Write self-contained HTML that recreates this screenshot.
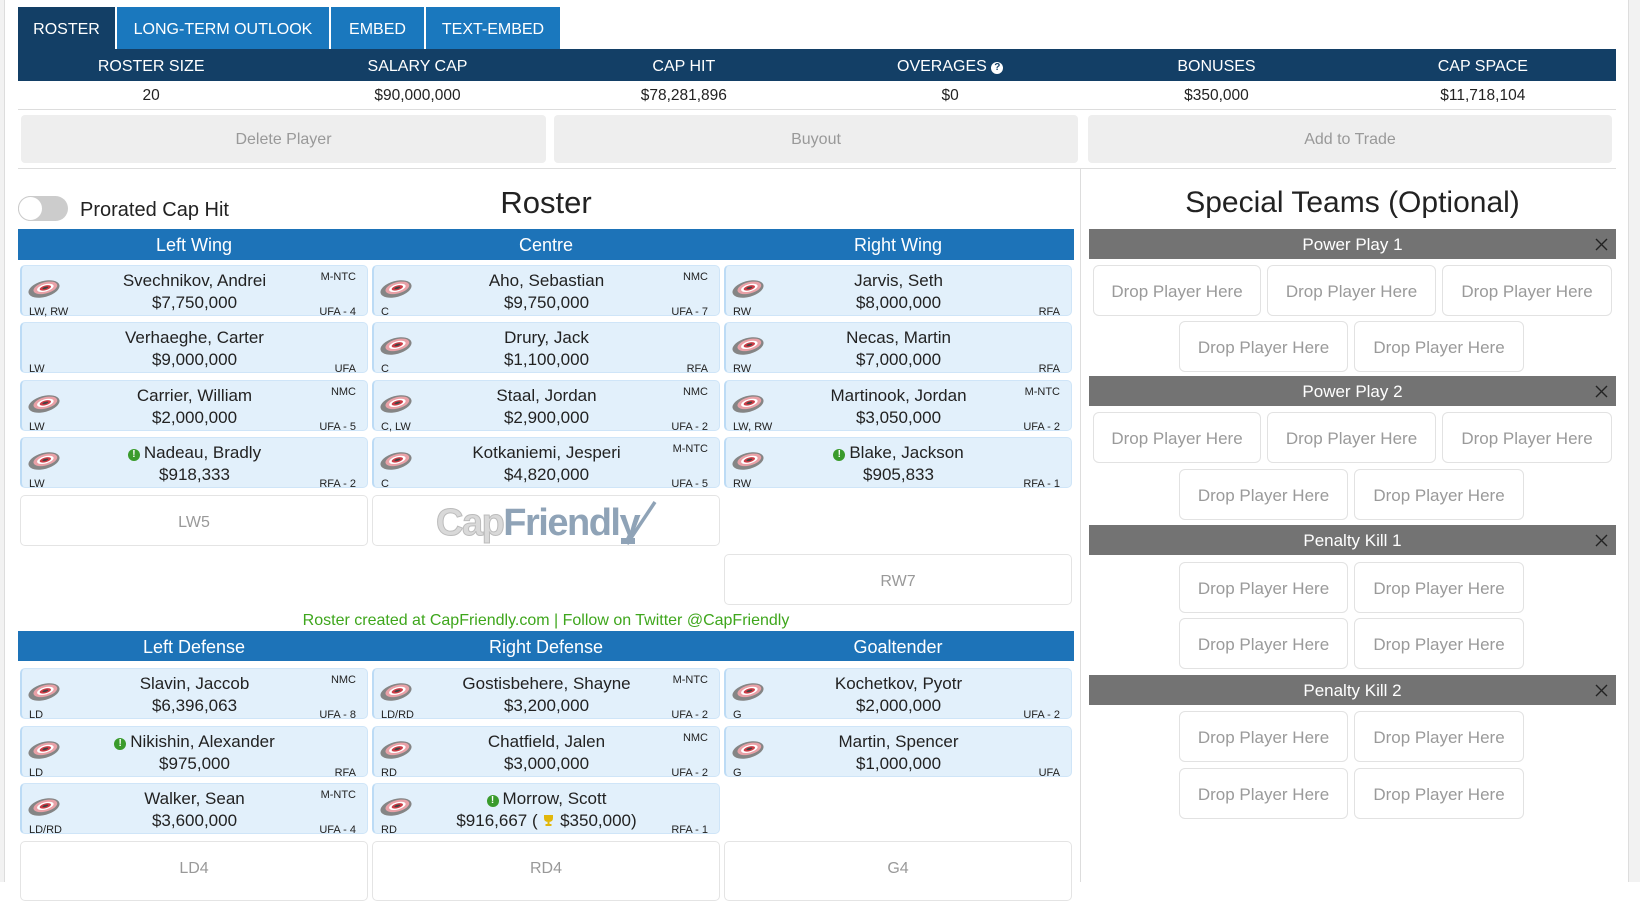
<!DOCTYPE html>
<html><head><meta charset="utf-8">
<style>
*{box-sizing:border-box}
body{margin:0;width:1640px;height:882px;overflow:hidden;position:relative;background:#fff;font-family:"Liberation Sans",Arial,sans-serif;color:#222}
.a{position:absolute}
.tab{position:absolute;top:7px;height:42px;color:#fff;font-size:16px;line-height:42px;padding-top:2px;text-align:center;background:#1a78be}
.hdr{position:absolute;left:18px;top:49px;width:1598px;height:32px;background:#133f66;display:flex}
.hdr div{flex:1;text-align:center;color:#fff;font-size:16px;line-height:32px;padding-top:2px}
.vals{position:absolute;left:18px;top:81px;width:1598px;height:29px;display:flex;border-bottom:1px solid #ddd}
.vals div{flex:1;text-align:center;font-size:15.5px;line-height:28px;padding-top:1px;color:#222}
.btn{position:absolute;top:115px;height:48px;background:#eee;border-radius:4px;color:#999;font-size:16px;line-height:48px;padding-top:1px;text-align:center}
.ph{position:absolute;height:31px;background:#1d73b8;color:#fff;font-size:18px;line-height:31px;padding-top:1px;text-align:center}
.card{position:absolute;width:348px;height:51px;background:#e2f0fb;border:1px solid #cfe5f8;border-left:2px solid #bcdbf5;border-radius:5px}
.card .nm,.card .sal{position:absolute;left:0;right:0;text-align:center;font-size:17px;line-height:20px;color:#222;white-space:nowrap}
.card .nm{top:5px}
.card .sal{top:27px}
.card .pos{position:absolute;left:7px;top:40px;font-size:11px;line-height:13px}
.card .cl{position:absolute;right:11px;top:5px;font-size:11px;line-height:13px}
.card .ex{position:absolute;right:11px;top:40px;font-size:11px;line-height:13px}
.card svg.lg{position:absolute;left:5px;top:12px}
.empty{position:absolute;width:348px;height:51px;background:#fff;border:1px solid #e4e4e4;border-radius:5px;color:#999;font-size:16px;line-height:49px;padding-top:2px;text-align:center}
.bar{position:absolute;left:1089px;width:527px;height:30px;background:#737373;color:#fff;font-size:17px;line-height:30px;padding-top:1px;text-align:center}
.bar svg{position:absolute;right:8px;top:9px}
.drop{position:absolute;height:51px;border:1px solid #e2e2e2;border-radius:6px;background:#fff;color:#9a9a9a;font-size:17px;line-height:49px;padding-top:1px;text-align:center;white-space:nowrap}
.gi{display:inline-block;width:12px;height:12px;border-radius:50%;background:#3a9b2c;color:#fff;font-size:10px;line-height:12px;text-align:center;font-weight:bold;vertical-align:1px;margin-right:4px}
</style></head><body>

<!-- side strips -->
<div class="a" style="left:0;top:0;width:4px;height:882px;background:#f2f2f2"></div>
<div class="a" style="left:4px;top:0;width:1px;height:882px;background:#ddd"></div>
<div class="a" style="left:1628px;top:0;width:1px;height:882px;background:#ddd"></div>
<div class="a" style="left:1629px;top:0;width:11px;height:882px;background:#f2f2f2"></div>

<!-- tabs -->
<div class="tab" style="left:18px;width:97px;background:#133f66">ROSTER</div>
<div class="tab" style="left:117px;width:212px">LONG-TERM OUTLOOK</div>
<div class="tab" style="left:331px;width:93px">EMBED</div>
<div class="tab" style="left:426px;width:134px">TEXT-EMBED</div>

<div class="hdr"><div>ROSTER SIZE</div><div>SALARY CAP</div><div>CAP HIT</div><div>OVERAGES <span style="display:inline-block;width:12px;height:12px;border-radius:50%;background:#fff;color:#133f66;font-size:10px;line-height:12px;font-weight:bold;vertical-align:1px">?</span></div><div>BONUSES</div><div>CAP SPACE</div></div>
<div class="vals"><div>20</div><div>$90,000,000</div><div>$78,281,896</div><div>$0</div><div>$350,000</div><div>$11,718,104</div></div>

<div class="btn" style="left:21px;width:525px">Delete Player</div>
<div class="btn" style="left:554px;width:524px">Buyout</div>
<div class="btn" style="left:1088px;width:524px">Add to Trade</div>
<div class="a" style="left:18px;top:168px;width:1598px;height:1px;background:#ddd"></div>
<div class="a" style="left:1080px;top:168px;width:1px;height:714px;background:#ddd"></div>

<!-- toggle -->
<div class="a" style="left:18px;top:196px;width:50px;height:25px;border-radius:13px;background:#ccc"></div>
<div class="a" style="left:18px;top:196px;width:25px;height:25px;border-radius:50%;background:#fff;border:1px solid #ccc"></div>
<div class="a" style="left:80px;top:198px;font-size:20px;line-height:24px;color:#222">Prorated Cap Hit</div>
<div class="a" style="left:346px;width:400px;top:185px;text-align:center;font-size:31px;line-height:36px;color:#222">Roster</div>
<div class="a" style="left:1089px;width:527px;top:185px;text-align:center;font-size:30px;line-height:36px;color:#222">Special Teams (Optional)</div>

<!-- forward headers -->
<div class="ph" style="left:18px;top:229px;width:352px">Left Wing</div>
<div class="ph" style="left:370px;top:229px;width:352px">Centre</div>
<div class="ph" style="left:722px;top:229px;width:352px">Right Wing</div>

<!-- LW -->
<div class="card" style="left:20px;top:265px"><svg class="lg" width="34" height="22" viewBox="0 0 32 20"><g transform="rotate(-15 16 10)"><ellipse cx="16" cy="10" rx="15" ry="7.5" fill="#858585"/><ellipse cx="17.5" cy="9.3" rx="11.5" ry="5.3" fill="#e9a1a7"/><ellipse cx="17.5" cy="9.3" rx="8" ry="3.4" fill="#fff"/><ellipse cx="17.5" cy="9.3" rx="5.5" ry="2.2" fill="#cc3b45"/><ellipse cx="17.5" cy="9.3" rx="2.8" ry="1" fill="#444"/></g></svg><div class="nm">Svechnikov, Andrei</div><div class="sal">$7,750,000</div><div class="pos">LW, RW</div><div class="cl">M-NTC</div><div class="ex">UFA - 4</div></div>
<div class="card" style="left:20px;top:322px"><div class="nm">Verhaeghe, Carter</div><div class="sal">$9,000,000</div><div class="pos">LW</div><div class="ex">UFA</div></div>
<div class="card" style="left:20px;top:380px"><svg class="lg" width="34" height="22" viewBox="0 0 32 20"><g transform="rotate(-15 16 10)"><ellipse cx="16" cy="10" rx="15" ry="7.5" fill="#858585"/><ellipse cx="17.5" cy="9.3" rx="11.5" ry="5.3" fill="#e9a1a7"/><ellipse cx="17.5" cy="9.3" rx="8" ry="3.4" fill="#fff"/><ellipse cx="17.5" cy="9.3" rx="5.5" ry="2.2" fill="#cc3b45"/><ellipse cx="17.5" cy="9.3" rx="2.8" ry="1" fill="#444"/></g></svg><div class="nm">Carrier, William</div><div class="sal">$2,000,000</div><div class="pos">LW</div><div class="cl">NMC</div><div class="ex">UFA - 5</div></div>
<div class="card" style="left:20px;top:437px"><svg class="lg" width="34" height="22" viewBox="0 0 32 20"><g transform="rotate(-15 16 10)"><ellipse cx="16" cy="10" rx="15" ry="7.5" fill="#858585"/><ellipse cx="17.5" cy="9.3" rx="11.5" ry="5.3" fill="#e9a1a7"/><ellipse cx="17.5" cy="9.3" rx="8" ry="3.4" fill="#fff"/><ellipse cx="17.5" cy="9.3" rx="5.5" ry="2.2" fill="#cc3b45"/><ellipse cx="17.5" cy="9.3" rx="2.8" ry="1" fill="#444"/></g></svg><div class="nm"><span class="gi">!</span>Nadeau, Bradly</div><div class="sal">$918,333</div><div class="pos">LW</div><div class="ex">RFA - 2</div></div>
<div class="empty" style="left:20px;top:495px">LW5</div>

<!-- C -->
<div class="card" style="left:372px;top:265px"><svg class="lg" width="34" height="22" viewBox="0 0 32 20"><g transform="rotate(-15 16 10)"><ellipse cx="16" cy="10" rx="15" ry="7.5" fill="#858585"/><ellipse cx="17.5" cy="9.3" rx="11.5" ry="5.3" fill="#e9a1a7"/><ellipse cx="17.5" cy="9.3" rx="8" ry="3.4" fill="#fff"/><ellipse cx="17.5" cy="9.3" rx="5.5" ry="2.2" fill="#cc3b45"/><ellipse cx="17.5" cy="9.3" rx="2.8" ry="1" fill="#444"/></g></svg><div class="nm">Aho, Sebastian</div><div class="sal">$9,750,000</div><div class="pos">C</div><div class="cl">NMC</div><div class="ex">UFA - 7</div></div>
<div class="card" style="left:372px;top:322px"><svg class="lg" width="34" height="22" viewBox="0 0 32 20"><g transform="rotate(-15 16 10)"><ellipse cx="16" cy="10" rx="15" ry="7.5" fill="#858585"/><ellipse cx="17.5" cy="9.3" rx="11.5" ry="5.3" fill="#e9a1a7"/><ellipse cx="17.5" cy="9.3" rx="8" ry="3.4" fill="#fff"/><ellipse cx="17.5" cy="9.3" rx="5.5" ry="2.2" fill="#cc3b45"/><ellipse cx="17.5" cy="9.3" rx="2.8" ry="1" fill="#444"/></g></svg><div class="nm">Drury, Jack</div><div class="sal">$1,100,000</div><div class="pos">C</div><div class="ex">RFA</div></div>
<div class="card" style="left:372px;top:380px"><svg class="lg" width="34" height="22" viewBox="0 0 32 20"><g transform="rotate(-15 16 10)"><ellipse cx="16" cy="10" rx="15" ry="7.5" fill="#858585"/><ellipse cx="17.5" cy="9.3" rx="11.5" ry="5.3" fill="#e9a1a7"/><ellipse cx="17.5" cy="9.3" rx="8" ry="3.4" fill="#fff"/><ellipse cx="17.5" cy="9.3" rx="5.5" ry="2.2" fill="#cc3b45"/><ellipse cx="17.5" cy="9.3" rx="2.8" ry="1" fill="#444"/></g></svg><div class="nm">Staal, Jordan</div><div class="sal">$2,900,000</div><div class="pos">C, LW</div><div class="cl">NMC</div><div class="ex">UFA - 2</div></div>
<div class="card" style="left:372px;top:437px"><svg class="lg" width="34" height="22" viewBox="0 0 32 20"><g transform="rotate(-15 16 10)"><ellipse cx="16" cy="10" rx="15" ry="7.5" fill="#858585"/><ellipse cx="17.5" cy="9.3" rx="11.5" ry="5.3" fill="#e9a1a7"/><ellipse cx="17.5" cy="9.3" rx="8" ry="3.4" fill="#fff"/><ellipse cx="17.5" cy="9.3" rx="5.5" ry="2.2" fill="#cc3b45"/><ellipse cx="17.5" cy="9.3" rx="2.8" ry="1" fill="#444"/></g></svg><div class="nm">Kotkaniemi, Jesperi</div><div class="sal">$4,820,000</div><div class="pos">C</div><div class="cl">M-NTC</div><div class="ex">UFA - 5</div></div>
<div class="empty" style="left:372px;top:495px;line-height:normal;padding-top:0">
  <div class="a" style="left:63px;top:5px;font-size:38px;font-weight:bold;letter-spacing:-1.5px;line-height:44px;white-space:nowrap"><span style="color:#d9d9d9;-webkit-text-stroke:1px #bcbcbc">Cap</span><span style="color:#8fa3b7">Friendly</span></div>
  <svg class="a" style="left:228px;top:2px" width="60" height="50" viewBox="0 0 60 50"><path d="M54 4 L26 46" stroke="#8fa3b7" stroke-width="3.5"/><rect x="20" y="40" width="14" height="6" fill="#8fa3b7"/></svg>
</div>

<!-- RW -->
<div class="card" style="left:724px;top:265px"><svg class="lg" width="34" height="22" viewBox="0 0 32 20"><g transform="rotate(-15 16 10)"><ellipse cx="16" cy="10" rx="15" ry="7.5" fill="#858585"/><ellipse cx="17.5" cy="9.3" rx="11.5" ry="5.3" fill="#e9a1a7"/><ellipse cx="17.5" cy="9.3" rx="8" ry="3.4" fill="#fff"/><ellipse cx="17.5" cy="9.3" rx="5.5" ry="2.2" fill="#cc3b45"/><ellipse cx="17.5" cy="9.3" rx="2.8" ry="1" fill="#444"/></g></svg><div class="nm">Jarvis, Seth</div><div class="sal">$8,000,000</div><div class="pos">RW</div><div class="ex">RFA</div></div>
<div class="card" style="left:724px;top:322px"><svg class="lg" width="34" height="22" viewBox="0 0 32 20"><g transform="rotate(-15 16 10)"><ellipse cx="16" cy="10" rx="15" ry="7.5" fill="#858585"/><ellipse cx="17.5" cy="9.3" rx="11.5" ry="5.3" fill="#e9a1a7"/><ellipse cx="17.5" cy="9.3" rx="8" ry="3.4" fill="#fff"/><ellipse cx="17.5" cy="9.3" rx="5.5" ry="2.2" fill="#cc3b45"/><ellipse cx="17.5" cy="9.3" rx="2.8" ry="1" fill="#444"/></g></svg><div class="nm">Necas, Martin</div><div class="sal">$7,000,000</div><div class="pos">RW</div><div class="ex">RFA</div></div>
<div class="card" style="left:724px;top:380px"><svg class="lg" width="34" height="22" viewBox="0 0 32 20"><g transform="rotate(-15 16 10)"><ellipse cx="16" cy="10" rx="15" ry="7.5" fill="#858585"/><ellipse cx="17.5" cy="9.3" rx="11.5" ry="5.3" fill="#e9a1a7"/><ellipse cx="17.5" cy="9.3" rx="8" ry="3.4" fill="#fff"/><ellipse cx="17.5" cy="9.3" rx="5.5" ry="2.2" fill="#cc3b45"/><ellipse cx="17.5" cy="9.3" rx="2.8" ry="1" fill="#444"/></g></svg><div class="nm">Martinook, Jordan</div><div class="sal">$3,050,000</div><div class="pos">LW, RW</div><div class="cl">M-NTC</div><div class="ex">UFA - 2</div></div>
<div class="card" style="left:724px;top:437px"><svg class="lg" width="34" height="22" viewBox="0 0 32 20"><g transform="rotate(-15 16 10)"><ellipse cx="16" cy="10" rx="15" ry="7.5" fill="#858585"/><ellipse cx="17.5" cy="9.3" rx="11.5" ry="5.3" fill="#e9a1a7"/><ellipse cx="17.5" cy="9.3" rx="8" ry="3.4" fill="#fff"/><ellipse cx="17.5" cy="9.3" rx="5.5" ry="2.2" fill="#cc3b45"/><ellipse cx="17.5" cy="9.3" rx="2.8" ry="1" fill="#444"/></g></svg><div class="nm"><span class="gi">!</span>Blake, Jackson</div><div class="sal">$905,833</div><div class="pos">RW</div><div class="ex">RFA - 1</div></div>
<div class="empty" style="left:724px;top:554px">RW7</div>

<div class="a" style="left:18px;width:1056px;top:611px;text-align:center;font-size:16px;line-height:20px;color:#3ea61c">Roster created at CapFriendly.com | Follow on Twitter @CapFriendly</div>

<!-- defense headers -->
<div class="ph" style="left:18px;top:631px;width:352px;height:30px;line-height:30px">Left Defense</div>
<div class="ph" style="left:370px;top:631px;width:352px;height:30px;line-height:30px">Right Defense</div>
<div class="ph" style="left:722px;top:631px;width:352px;height:30px;line-height:30px">Goaltender</div>

<!-- LD -->
<div class="card" style="left:20px;top:668px"><svg class="lg" width="34" height="22" viewBox="0 0 32 20"><g transform="rotate(-15 16 10)"><ellipse cx="16" cy="10" rx="15" ry="7.5" fill="#858585"/><ellipse cx="17.5" cy="9.3" rx="11.5" ry="5.3" fill="#e9a1a7"/><ellipse cx="17.5" cy="9.3" rx="8" ry="3.4" fill="#fff"/><ellipse cx="17.5" cy="9.3" rx="5.5" ry="2.2" fill="#cc3b45"/><ellipse cx="17.5" cy="9.3" rx="2.8" ry="1" fill="#444"/></g></svg><div class="nm">Slavin, Jaccob</div><div class="sal">$6,396,063</div><div class="pos">LD</div><div class="cl">NMC</div><div class="ex">UFA - 8</div></div>
<div class="card" style="left:20px;top:726px"><svg class="lg" width="34" height="22" viewBox="0 0 32 20"><g transform="rotate(-15 16 10)"><ellipse cx="16" cy="10" rx="15" ry="7.5" fill="#858585"/><ellipse cx="17.5" cy="9.3" rx="11.5" ry="5.3" fill="#e9a1a7"/><ellipse cx="17.5" cy="9.3" rx="8" ry="3.4" fill="#fff"/><ellipse cx="17.5" cy="9.3" rx="5.5" ry="2.2" fill="#cc3b45"/><ellipse cx="17.5" cy="9.3" rx="2.8" ry="1" fill="#444"/></g></svg><div class="nm"><span class="gi">!</span>Nikishin, Alexander</div><div class="sal">$975,000</div><div class="pos">LD</div><div class="ex">RFA</div></div>
<div class="card" style="left:20px;top:783px"><svg class="lg" width="34" height="22" viewBox="0 0 32 20"><g transform="rotate(-15 16 10)"><ellipse cx="16" cy="10" rx="15" ry="7.5" fill="#858585"/><ellipse cx="17.5" cy="9.3" rx="11.5" ry="5.3" fill="#e9a1a7"/><ellipse cx="17.5" cy="9.3" rx="8" ry="3.4" fill="#fff"/><ellipse cx="17.5" cy="9.3" rx="5.5" ry="2.2" fill="#cc3b45"/><ellipse cx="17.5" cy="9.3" rx="2.8" ry="1" fill="#444"/></g></svg><div class="nm">Walker, Sean</div><div class="sal">$3,600,000</div><div class="pos">LD/RD</div><div class="cl">M-NTC</div><div class="ex">UFA - 4</div></div>
<div class="empty" style="left:20px;top:841px;height:60px;line-height:50px">LD4</div>

<!-- RD -->
<div class="card" style="left:372px;top:668px"><svg class="lg" width="34" height="22" viewBox="0 0 32 20"><g transform="rotate(-15 16 10)"><ellipse cx="16" cy="10" rx="15" ry="7.5" fill="#858585"/><ellipse cx="17.5" cy="9.3" rx="11.5" ry="5.3" fill="#e9a1a7"/><ellipse cx="17.5" cy="9.3" rx="8" ry="3.4" fill="#fff"/><ellipse cx="17.5" cy="9.3" rx="5.5" ry="2.2" fill="#cc3b45"/><ellipse cx="17.5" cy="9.3" rx="2.8" ry="1" fill="#444"/></g></svg><div class="nm">Gostisbehere, Shayne</div><div class="sal">$3,200,000</div><div class="pos">LD/RD</div><div class="cl">M-NTC</div><div class="ex">UFA - 2</div></div>
<div class="card" style="left:372px;top:726px"><svg class="lg" width="34" height="22" viewBox="0 0 32 20"><g transform="rotate(-15 16 10)"><ellipse cx="16" cy="10" rx="15" ry="7.5" fill="#858585"/><ellipse cx="17.5" cy="9.3" rx="11.5" ry="5.3" fill="#e9a1a7"/><ellipse cx="17.5" cy="9.3" rx="8" ry="3.4" fill="#fff"/><ellipse cx="17.5" cy="9.3" rx="5.5" ry="2.2" fill="#cc3b45"/><ellipse cx="17.5" cy="9.3" rx="2.8" ry="1" fill="#444"/></g></svg><div class="nm">Chatfield, Jalen</div><div class="sal">$3,000,000</div><div class="pos">RD</div><div class="cl">NMC</div><div class="ex">UFA - 2</div></div>
<div class="card" style="left:372px;top:783px"><svg class="lg" width="34" height="22" viewBox="0 0 32 20"><g transform="rotate(-15 16 10)"><ellipse cx="16" cy="10" rx="15" ry="7.5" fill="#858585"/><ellipse cx="17.5" cy="9.3" rx="11.5" ry="5.3" fill="#e9a1a7"/><ellipse cx="17.5" cy="9.3" rx="8" ry="3.4" fill="#fff"/><ellipse cx="17.5" cy="9.3" rx="5.5" ry="2.2" fill="#cc3b45"/><ellipse cx="17.5" cy="9.3" rx="2.8" ry="1" fill="#444"/></g></svg><div class="nm"><span class="gi">!</span>Morrow, Scott</div><div class="sal">$916,667 ( <svg width="13" height="13" viewBox="0 0 13 13" style="vertical-align:-1px"><path d="M2 1 H11 V4 Q11 8 6.5 8 Q2 8 2 4 Z" fill="#e2b70a"/><rect x="5.5" y="8" width="2" height="2" fill="#e2b70a"/><rect x="3.5" y="10" width="6" height="2" fill="#e2b70a"/></svg> $350,000)</div><div class="pos">RD</div><div class="ex">RFA - 1</div></div>
<div class="empty" style="left:372px;top:841px;height:60px;line-height:50px">RD4</div>

<!-- G -->
<div class="card" style="left:724px;top:668px"><svg class="lg" width="34" height="22" viewBox="0 0 32 20"><g transform="rotate(-15 16 10)"><ellipse cx="16" cy="10" rx="15" ry="7.5" fill="#858585"/><ellipse cx="17.5" cy="9.3" rx="11.5" ry="5.3" fill="#e9a1a7"/><ellipse cx="17.5" cy="9.3" rx="8" ry="3.4" fill="#fff"/><ellipse cx="17.5" cy="9.3" rx="5.5" ry="2.2" fill="#cc3b45"/><ellipse cx="17.5" cy="9.3" rx="2.8" ry="1" fill="#444"/></g></svg><div class="nm">Kochetkov, Pyotr</div><div class="sal">$2,000,000</div><div class="pos">G</div><div class="ex">UFA - 2</div></div>
<div class="card" style="left:724px;top:726px"><svg class="lg" width="34" height="22" viewBox="0 0 32 20"><g transform="rotate(-15 16 10)"><ellipse cx="16" cy="10" rx="15" ry="7.5" fill="#858585"/><ellipse cx="17.5" cy="9.3" rx="11.5" ry="5.3" fill="#e9a1a7"/><ellipse cx="17.5" cy="9.3" rx="8" ry="3.4" fill="#fff"/><ellipse cx="17.5" cy="9.3" rx="5.5" ry="2.2" fill="#cc3b45"/><ellipse cx="17.5" cy="9.3" rx="2.8" ry="1" fill="#444"/></g></svg><div class="nm">Martin, Spencer</div><div class="sal">$1,000,000</div><div class="pos">G</div><div class="ex">UFA</div></div>
<div class="empty" style="left:724px;top:841px;height:60px;line-height:50px">G4</div>

<!-- Special teams -->
<div class="bar" style="top:229px">Power Play 1<svg width="13" height="13" viewBox="0 0 13 13"><path d="M1 1 L12 12 M12 1 L1 12" stroke="#222" stroke-width="1.4"/></svg></div>
<div class="drop" style="left:1093px;top:265px;width:168px">Drop Player Here</div>
<div class="drop" style="left:1267px;top:265px;width:169px">Drop Player Here</div>
<div class="drop" style="left:1442px;top:265px;width:170px">Drop Player Here</div>
<div class="drop" style="left:1179px;top:321px;width:169px">Drop Player Here</div>
<div class="drop" style="left:1354px;top:321px;width:170px">Drop Player Here</div>

<div class="bar" style="top:376px">Power Play 2<svg width="13" height="13" viewBox="0 0 13 13"><path d="M1 1 L12 12 M12 1 L1 12" stroke="#222" stroke-width="1.4"/></svg></div>
<div class="drop" style="left:1093px;top:412px;width:168px">Drop Player Here</div>
<div class="drop" style="left:1267px;top:412px;width:169px">Drop Player Here</div>
<div class="drop" style="left:1442px;top:412px;width:170px">Drop Player Here</div>
<div class="drop" style="left:1179px;top:469px;width:169px">Drop Player Here</div>
<div class="drop" style="left:1354px;top:469px;width:170px">Drop Player Here</div>

<div class="bar" style="top:525px">Penalty Kill 1<svg width="13" height="13" viewBox="0 0 13 13"><path d="M1 1 L12 12 M12 1 L1 12" stroke="#222" stroke-width="1.4"/></svg></div>
<div class="drop" style="left:1179px;top:562px;width:169px">Drop Player Here</div>
<div class="drop" style="left:1354px;top:562px;width:170px">Drop Player Here</div>
<div class="drop" style="left:1179px;top:618px;width:169px">Drop Player Here</div>
<div class="drop" style="left:1354px;top:618px;width:170px">Drop Player Here</div>

<div class="bar" style="top:675px">Penalty Kill 2<svg width="13" height="13" viewBox="0 0 13 13"><path d="M1 1 L12 12 M12 1 L1 12" stroke="#222" stroke-width="1.4"/></svg></div>
<div class="drop" style="left:1179px;top:711px;width:169px">Drop Player Here</div>
<div class="drop" style="left:1354px;top:711px;width:170px">Drop Player Here</div>
<div class="drop" style="left:1179px;top:768px;width:169px">Drop Player Here</div>
<div class="drop" style="left:1354px;top:768px;width:170px">Drop Player Here</div>

</body></html>
